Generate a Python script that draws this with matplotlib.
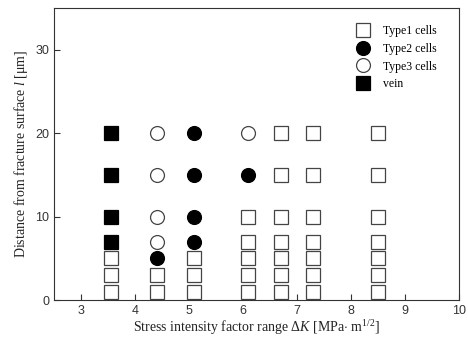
import matplotlib
matplotlib.use("Agg")
import matplotlib.pyplot as plt

serif = 'Liberation Serif'
plt.rcParams['mathtext.fontset'] = 'custom'
plt.rcParams['mathtext.rm'] = serif
plt.rcParams['mathtext.it'] = serif + ':italic'
plt.rcParams['mathtext.bf'] = serif + ':bold'

# Data: (delta K, distance) per category
type1_x = [3.55]*3 + [4.4]*2 + [5.1]*3 + [6.1]*5 + [6.7]*7 + [7.3]*7 + [8.5]*7
type1_y = [1, 3, 5] + [1, 3] + [1, 3, 5] + [1, 3, 5, 7, 10] + [1, 3, 5, 7, 10, 15, 20]*3
type2_x = [4.4] + [5.1]*4 + [6.1]
type2_y = [5] + [7, 10, 15, 20] + [15]
type3_x = [4.4]*4 + [6.1]
type3_y = [7, 10, 15, 20] + [20]
vein_x = [3.55]*4
vein_y = [7, 10, 15, 20]

xticks = [3, 4, 5, 6, 7, 8, 9, 10]
yticks = [0, 10, 20, 30]

fig = plt.figure(figsize=(4.68, 3.47), dpi=100)
ax = fig.add_axes([0.1154, 0.1354, 0.8656, 0.8416])

ms = 9.5
ax.plot(type1_x, type1_y, ls='none', marker='s', ms=ms, mfc='white', mec='#444444', mew=0.9, label='Type1 cells')
ax.plot(type2_x, type2_y, ls='none', marker='o', ms=ms+0.5, mfc='black', mec='black', mew=0.9, label='Type2 cells')
ax.plot(type3_x, type3_y, ls='none', marker='o', ms=ms+0.5, mfc='white', mec='#444444', mew=0.9, label='Type3 cells')
ax.plot(vein_x, vein_y, ls='none', marker='s', ms=ms, mfc='black', mec='black', mew=0.9, label='vein')

ax.set_xlim(2.5, 10)
ax.set_ylim(0, 35)
ax.set_xticks(xticks)
ax.set_yticks(yticks)
ax.tick_params(direction='in', length=4, width=0.8, labelsize=9, colors='#333333', labelcolor='#333333')
for lab in ax.get_xticklabels() + ax.get_yticklabels():
    lab.set_family('Liberation Sans')
for sp in ax.spines.values():
    sp.set_linewidth(0.8)
    sp.set_color('#333333')

ax.set_xlabel(r'Stress intensity factor range $\mathit{\Delta K}$ [MPa$\cdot$ m$^{1/2}$]', family=serif, fontsize=10, color='#222222', labelpad=1)
ax.set_ylabel(r'Distance from fracture surface $\mathit{l}$ [$\mathrm{\mu}$m]', family=serif, fontsize=10, color='#222222', labelpad=4)

leg = ax.legend(loc='upper right', bbox_to_anchor=(0.965, 0.97), frameon=False, prop={'family': serif, 'size': 8.5},
                handletextpad=1.2, labelspacing=0.49, handlelength=1.0, borderaxespad=0.3)

fig.savefig('out.png', dpi=100)
